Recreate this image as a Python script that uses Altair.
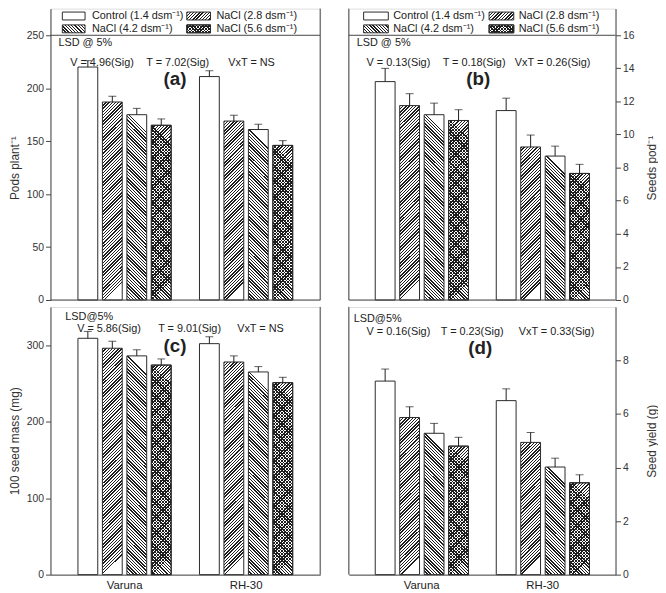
import math
import altair as alt
import pandas as pd

FONT = "Liberation Sans"
LINE = "#444444"
BAR = "#2a2a2a"
INK = "#1e1e1e"
TXT = "#222222"
CLEAR = "rgba(0,0,0,0)"

# ---------------- data ----------------
varieties = ["Varuna", "RH-30"]
treatments = ["Control (1.4 dsm⁻¹)", "NaCl (2.8 dsm⁻¹)", "NaCl (4.2 dsm⁻¹)", "NaCl (5.6 dsm⁻¹)"]
patterns = ["none", "fwd", "back", "cross"]

pods_varuna = [220, 187, 175, 165]
pods_varuna_err = [6, 5.5, 6, 6]
pods_rh30 = [211, 169, 161, 146]
pods_rh30_err = [5.5, 5.5, 5, 4.5]

seeds_varuna = [13.2, 11.75, 11.2, 10.85]
seeds_varuna_err = [0.8, 0.72, 0.7, 0.65]
seeds_rh30 = [11.45, 9.25, 8.7, 7.65]
seeds_rh30_err = [0.75, 0.72, 0.6, 0.55]

mass_varuna = [309, 296, 286, 274]
mass_varuna_err = [9, 9, 8, 8]
mass_rh30 = [302, 278, 265, 251]
mass_rh30_err = [9, 8, 7, 7]

yield_varuna = [7.23, 5.87, 5.28, 4.8]
yield_varuna_err = [0.45, 0.4, 0.37, 0.33]
yield_rh30 = [6.5, 4.94, 4.02, 3.43]
yield_rh30_err = [0.44, 0.37, 0.33, 0.3]

y_titles = ["Pods plant⁻¹", "Seeds pod⁻¹", "100 seed mass (mg)", "Seed yield (g)"]
y_ticks = [[0, 50, 100, 150, 200, 250], [0, 2, 4, 6, 8, 10, 12, 14, 16],
           [0, 100, 200, 300], [0, 2, 4, 6, 8]]
y_max = [250, 16, 350, 10]
panel_tags = ["(a)", "(b)", "(c)", "(d)"]
lsd_heads = ["LSD @ 5%", "LSD @ 5%", "LSD@5%", "LSD@5%"]
lsd_v = ["V = 4.96(Sig)", "V = 0.13(Sig)", "V = 5.86(Sig)", "V = 0.16(Sig)"]
lsd_t = ["T = 7.02(Sig)", "T = 0.18(Sig)", "T = 9.01(Sig)", "T = 0.23(Sig)"]
lsd_vt = ["VxT = NS", "VxT = 0.26(Sig)", "VxT = NS", "VxT = 0.33(Sig)"]

# ---------------- layout ----------------
LEG_H = 27
TOP_PLOT = 268
BOT_PLOT = 271
BAR_W = 20

one = pd.DataFrame({"k": [0]})


def stripes(w, h, kind, paper="#ffffff", period=2.3, line=1.0):
    r = w / h
    if kind == "back":
        x1, y1, x2, y2 = 0, 1, r, 0
    else:
        x1, y1, x2, y2 = 0, 0, r, 1
    span = h * (1 + r * r) / math.sqrt(2)
    stops = []
    pos = 0.0
    while pos < span:
        a = round(pos / span, 5)
        b = round(min((pos + line) / span, 1.0), 5)
        c = round(min((pos + period) / span, 1.0), 5)
        stops += [{"offset": a, "color": INK}, {"offset": b, "color": INK},
                  {"offset": b, "color": paper}, {"offset": c, "color": paper}]
        pos += period
    return {"gradient": "linear", "x1": x1, "y1": y1, "x2": x2, "y2": y2, "stops": stops}


def fills_for(pattern, w, h):
    if pattern == "fwd":
        return [stripes(w, h, "fwd")]
    if pattern == "back":
        return [stripes(w, h, "back")]
    if pattern == "cross":
        return [stripes(w, h, "back"), stripes(w, h, "fwd", paper=CLEAR)]
    return ["#ffffff"]


def txt(s, x, y, size=11, weight="normal", align="left"):
    return alt.Chart(one).mark_text(text=s, align=align, baseline="middle", font=FONT,
                                    fontSize=size, fontWeight=weight, color=TXT).encode(
        x=alt.value(x), y=alt.value(y))


def vline(x, y0, y1):
    return alt.Chart(one).mark_rule(color=LINE, strokeWidth=1).encode(
        x=alt.value(x), y=alt.value(y0), y2=alt.value(y1))


def hline(y, x0, x1):
    return alt.Chart(one).mark_rule(color=LINE, strokeWidth=1).encode(
        y=alt.value(y), x=alt.value(x0), x2=alt.value(x1))


ann_pos = [
    dict(lsd=(8, 35), v=(20, 55), t=(97, 55), vt=(180, 55), tag=(126, 71)),
    dict(lsd=(8, 35), v=(18, 55), t=(95, 55), vt=(168, 55), tag=(131, 71)),
    dict(lsd=(15, 10), v=(27, 22), t=(109, 22), vt=(189, 22), tag=(126, 40)),
    dict(lsd=(5, 12), v=(18, 25), t=(93, 25), vt=(172, 25), tag=(133, 42)),
]
leg_pos = {
    "left": dict(icons=[(12, 35), (138, 162)], texts=[42, 168]),
    "right": dict(icons=[(15, 40), (142, 167)], texts=[45, 172]),
}
LEG_ROWS = [7.5, 20.5]


def make_panel(i, vals_v, err_v, vals_r, err_r, width, top, orient, pad_outer):
    ymax = y_max[i]
    plot_h = TOP_PLOT if top else BOT_PLOT
    ppu = plot_h / ymax
    height = plot_h + (LEG_H if top else 0)
    dmax = height / ppu

    rows = []
    for v, vals, errs in ((varieties[0], vals_v, err_v), (varieties[1], vals_r, err_r)):
        for t, p, val, e in zip(treatments, patterns, vals, errs):
            rows.append({"variety": v, "treatment": t, "pattern": p,
                         "value": val, "top": val + e})
    df = pd.DataFrame(rows)

    yscale = alt.Scale(domain=[0, dmax], nice=False, zero=True)
    title_y = (LEG_H + height) / 2 if top else height / 2
    yaxis = alt.Axis(values=y_ticks[i], title=y_titles[i], orient=orient, grid=False,
                     tickSize=5, tickColor=LINE, domainColor=LINE, labelFont=FONT,
                     labelFontSize=10.5, labelColor="#333333", labelPadding=2,
                     titleFont=FONT, titleFontSize=12, titleFontWeight="normal",
                     titleColor="#333333", titleAngle=270, titleBaseline="middle",
                     titleAlign="center",
                     titleX=(-36 if orient == "left" else 36), titleY=title_y)
    if top:
        xaxis = None
    else:
        xaxis = alt.Axis(ticks=False, domain=True, domainColor=LINE, labelFont=FONT,
                         labelFontSize=11.5, labelColor=TXT, labelPadding=5,
                         labelAngle=0, title=None)
    x = alt.X("variety:N", sort=varieties, axis=xaxis, title=None,
              scale=alt.Scale(paddingInner=0.233, paddingOuter=pad_outer))
    xo = alt.XOffset("treatment:N", sort=treatments,
                     scale=alt.Scale(paddingInner=0.19, paddingOuter=0))
    y = alt.Y("value:Q", scale=yscale, axis=yaxis)

    base = alt.Chart(df).encode(x=x, xOffset=xo, y=y)
    layers = [base.transform_filter(alt.datum.pattern == "none").mark_bar(
        fill="#ffffff", stroke=BAR, strokeWidth=1)]
    for rr in rows:
        if rr["pattern"] == "none":
            continue
        h = rr["value"] * ppu
        flt = (alt.datum.variety == rr["variety"]) & (alt.datum.pattern == rr["pattern"])
        for f in fills_for(rr["pattern"], BAR_W, h):
            layers.append(base.transform_filter(flt).mark_bar(
                fill=f, stroke=BAR, strokeWidth=1))
    layers.append(base.mark_rule(color=INK, strokeWidth=1).encode(y2="top:Q"))
    layers.append(base.mark_tick(orient="horizontal", size=8, thickness=1, color=INK).encode(
        y=alt.Y("top:Q", scale=yscale, axis=yaxis)))

    # frame
    if orient == "left":
        layers.append(vline(width, 0, height))
    else:
        layers.append(vline(0, 0, height))
    if top:
        layers.append(hline(height, 0, width))
        layers.append(hline(LEG_H, 0, width))
        lp = leg_pos[orient]
        for k, (t, p) in enumerate(zip(treatments, patterns)):
            row, col = divmod(k, 2)
            x0, x1 = lp["icons"][col]
            yc = LEG_ROWS[row]
            for f in fills_for(p, x1 - x0, 8):
                layers.append(alt.Chart(one).mark_rect(fill=f, stroke=BAR, strokeWidth=1).encode(
                    x=alt.value(x0), x2=alt.value(x1), y=alt.value(yc - 4), y2=alt.value(yc + 4)))
            layers.append(txt(t, lp["texts"][col], yc, size=11))

    ap = ann_pos[i]
    layers.append(txt(lsd_heads[i], *ap["lsd"]))
    layers.append(txt(lsd_v[i], *ap["v"]))
    layers.append(txt(lsd_t[i], *ap["t"]))
    layers.append(txt(lsd_vt[i], *ap["vt"]))
    layers.append(txt(panel_tags[i], *ap["tag"], size=19, weight="bold", align="center"))

    return alt.layer(*layers).properties(width=width, height=height)


pa = make_panel(0, pods_varuna, pods_varuna_err, pods_rh30, pods_rh30_err, 273, True, "left", 0.226)
pb = make_panel(1, seeds_varuna, seeds_varuna_err, seeds_rh30, seeds_rh30_err, 270, True, "right", 0.2185)
pc = make_panel(2, mass_varuna, mass_varuna_err, mass_rh30, mass_rh30_err, 273, False, "left", 0.226)
pd_ = make_panel(3, yield_varuna, yield_varuna_err, yield_rh30, yield_rh30_err, 270, False, "right", 0.2185)

chart = alt.hconcat(
    alt.vconcat(pa, pc, spacing=0),
    alt.vconcat(pb, pd_, spacing=0),
    spacing=27,
).properties(padding={"top": -4, "left": 0, "right": 0, "bottom": 0}
             ).configure_view(stroke=None).configure(font=FONT)

chart.save("out.html", embed_options={"renderer": "svg", "actions": False})
